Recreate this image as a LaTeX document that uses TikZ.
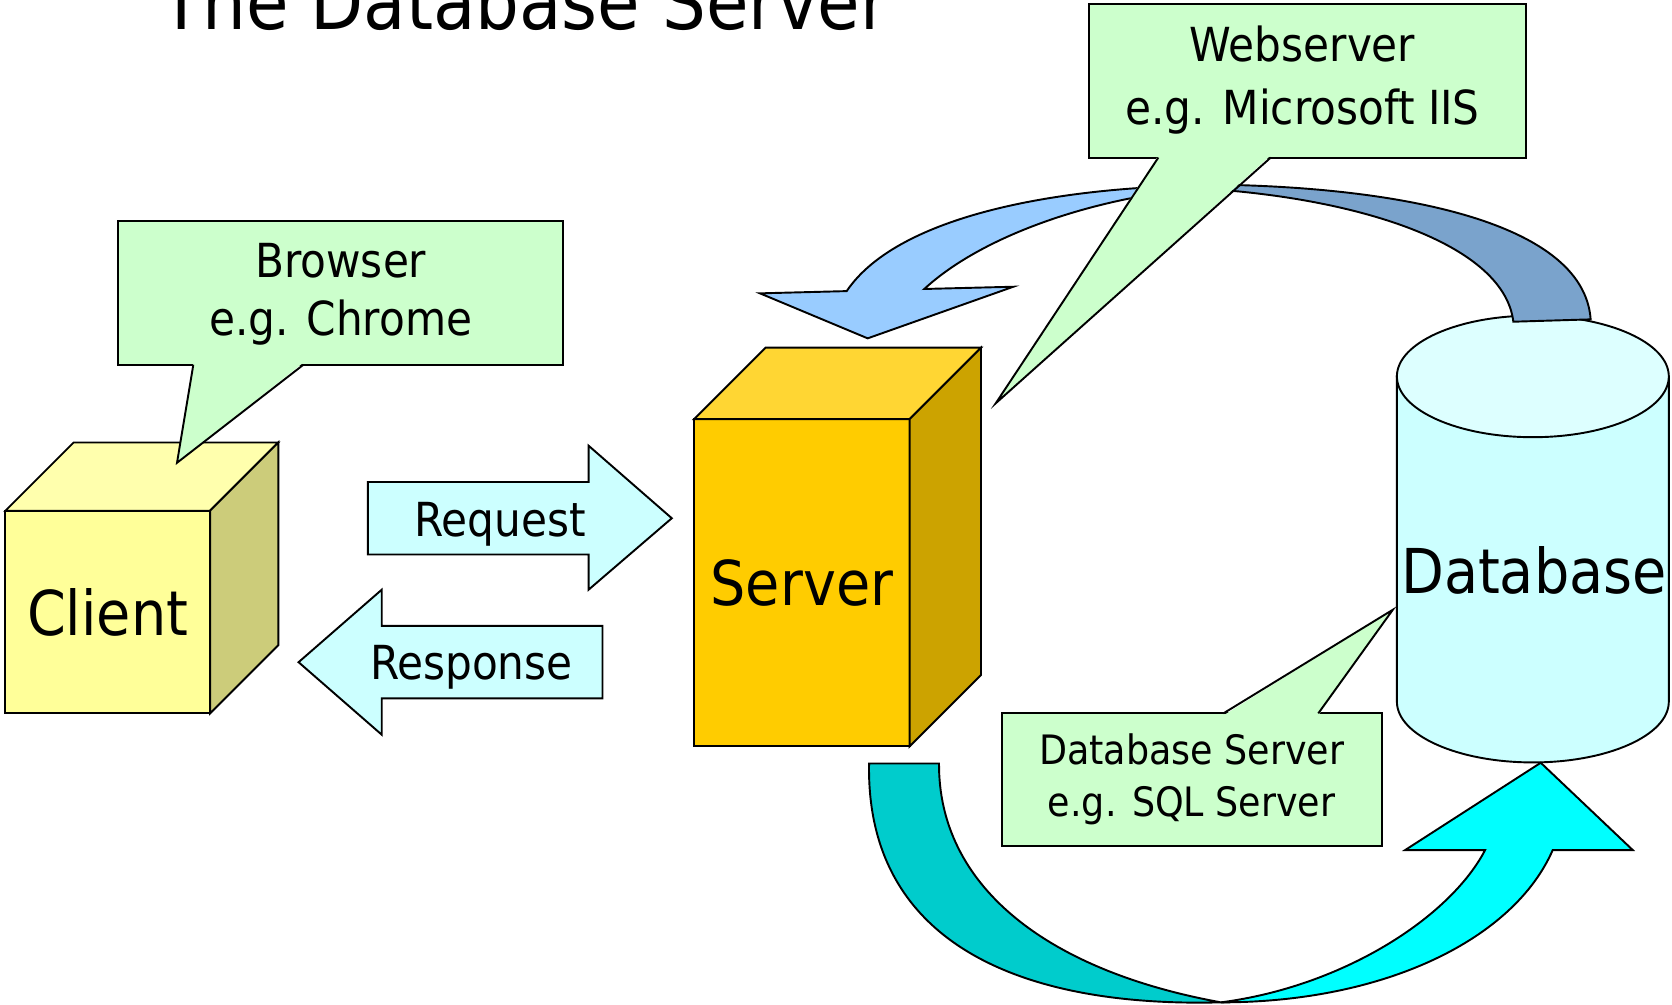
\documentclass[tikz,border=0pt]{standalone}
\usepackage{fontspec}
\setmainfont{DejaVu Sans Condensed}
\usetikzlibrary{calc}

\definecolor{clientfront}{HTML}{FFFF99}
\definecolor{clienttop}{HTML}{FFFFAD}
\definecolor{clientside}{HTML}{CCCC7A}
\definecolor{serverfront}{HTML}{FFCC00}
\definecolor{servertop}{HTML}{FFD633}
\definecolor{serverside}{HTML}{CCA300}
\definecolor{callgreen}{HTML}{CCFFCC}
\definecolor{msgcyan}{HTML}{CCFFFF}
\definecolor{dbbody}{HTML}{CCFFFF}
\definecolor{dbtop}{HTML}{DDFFFF}
\definecolor{webblue}{HTML}{99CCFF}
\definecolor{webdark}{HTML}{7AA3CC}
\definecolor{dbteal}{HTML}{00CCCC}
\definecolor{dbcyan}{HTML}{00FFFF}

\begin{document}
\begin{tikzpicture}[x=1pt, y=-1pt, line width=1.8pt]
            \tikzstyle{every node} = [inner sep=0pt, outer sep=0pt, font=\fontsize{44}{55}\selectfont];
            \tikzstyle{callbox} = [rectangle, fill=callgreen, draw=black];
            \tikzstyle{face} = [rectangle, draw=black, font=\fontsize{58}{70}\selectfont];
            \useasboundingbox (0,0) rectangle (1568,942);
            \clip (0,0) rectangle (1568,942);

            \node[anchor=base, font=\fontsize{72}{86}\selectfont] (title) at (492,28) {The Database Server};

            % database
            \filldraw[fill=dbbody] (1310,353) -- (1310,658) arc[start angle=180, end angle=0, x radius=127.5, y radius=57] -- (1565,353) -- cycle;
            \filldraw[fill=dbtop] (1437.5,353) ellipse[x radius=127.5, y radius=57];
            \node[anchor=base, font=\fontsize{58}{70}\selectfont] (db) at (1438.5,557) {Database};

            % client
            \node[face, fill=clientfront, minimum width=192pt, minimum height=190pt] (client) at (101,574) {Client};
            \filldraw[fill=clienttop] (client.north west) -- ++(64,-64) -- ++(192,0) -- (client.north east) -- cycle;
            \filldraw[fill=clientside] (client.north east) -- ++(64,-64) -- ++(0,190) -- (client.south east) -- cycle;

            % server
            \node[face, fill=serverfront, minimum width=202pt, minimum height=307pt] (server) at (752,546.5) {Server};
            \filldraw[fill=servertop] (server.north west) -- ++(67,-67) -- ++(202,0) -- (server.north east) -- cycle;
            \filldraw[fill=serverside] (server.north east) -- ++(67,-67) -- ++(0,307) -- (server.south east) -- cycle;

            % request / response
            \filldraw[fill=msgcyan] (345,452) -- (552,452) -- (552,418) -- (630,486) -- (552,553) -- (552,520) -- (345,520) -- cycle;
            \node[anchor=base] (request) at (469,503) {Request};
            \filldraw[fill=msgcyan] (565,587) -- (358,587) -- (358,553) -- (280,621) -- (358,689) -- (358,655) -- (565,655) -- cycle;
            \node[anchor=base] (response) at (442,637) {Response};

            % server <- database
            \filldraw[fill=webblue] (794,273) -- (712.7,275.1) -- (813.7,317.3) -- (950.3,268.9) -- (866.8,271)
                .. controls (920,222) and (1020,187) .. (1120,177) -- (1120,174)
                .. controls (980,177) and (840,205) .. (794,273) -- cycle;
            \filldraw[fill=webdark] (1110,173) .. controls (1300,172) and (1485,205) .. (1491.7,299.5) -- (1419.2,301.7)
                .. controls (1410,225) and (1260,182) .. (1110,176) -- cycle;

            % server -> database
            \filldraw[fill=dbteal] (815,716) .. controls (812,880) and (950,945) .. (1145,940)
                .. controls (980,910) and (880,830) .. (880.6,716) -- cycle;
            \filldraw[fill=dbcyan] (1145,940) .. controls (1300,940) and (1420,880) .. (1456.1,797.2) -- (1531.2,797.2)
                -- (1444.9,715.3) -- (1317.7,797.2) -- (1392.7,797.2)
                .. controls (1360,860) and (1260,925) .. (1145,940) -- cycle;

            % callouts
            \coordinate (browser tip) at (166,434);
            \node[callbox, minimum width=417pt, minimum height=135pt] (browser) at (319.5,274.5) {};
            \fill[callgreen] ($(browser.south west)+(70.3,-2)$) -- (browser tip) -- ($(browser.south west)+(173.6,-2)$) -- cycle;
            \draw ($(browser.south west)+(70.3,0)$) -- (browser tip) -- ($(browser.south west)+(173.6,0)$);
            \node[anchor=base, align=center] (browser text) at (319.6,315) {Browser\\e.g. Chrome};

            \coordinate (webserver tip) at (933.8,378.2);
            \node[callbox, minimum width=410pt, minimum height=144pt] (webserver) at (1226,75.75) {};
            \fill[callgreen] ($(webserver.south west)+(65.3,-2)$) -- (webserver tip) -- ($(webserver.south west)+(170.7,-2)$) -- cycle;
            \draw ($(webserver.south west)+(65.3,0)$) -- (webserver tip) -- ($(webserver.south west)+(170.7,0)$);
            \node[anchor=base, align=center, font=\fontsize{44}{59.4}\selectfont] (webserver text) at (1221.5,117.2) {Webserver\\e.g. Microsoft IIS};

            \coordinate (dbserver tip) at (1306.2,571.8);
            \node[callbox, minimum width=356.5pt, minimum height=124.4pt] (dbserver) at (1118,731.2) {};
            \fill[callgreen] ($(dbserver.north west)+(207.5,2)$) -- (dbserver tip) -- ($(dbserver.north west)+(296.5,2)$) -- cycle;
            \draw ($(dbserver.north west)+(207.5,0)$) -- (dbserver tip) -- ($(dbserver.north west)+(296.5,0)$);
            \node[anchor=base, align=center, font=\fontsize{38}{48.5}\selectfont] (dbserver text) at (1117.5,765.9) {Database Server\\e.g. SQL Server};
        \end{tikzpicture}
\end{document}
